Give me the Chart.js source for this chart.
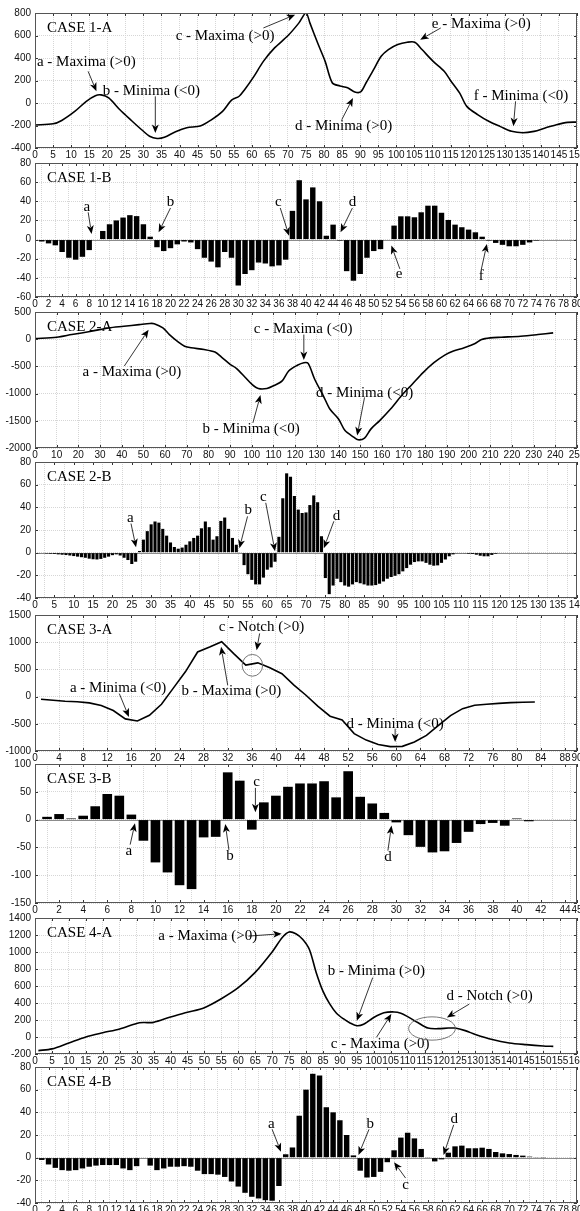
<!DOCTYPE html>
<html>
<head>
<meta charset="utf-8">
<script src="https://cdn.jsdelivr.net/npm/chart.js"></script>
<style>
  body { margin: 0; background: #fff; width: 580px; height: 1211px; position: relative; overflow: hidden; }
  canvas { position: absolute; left: 0; }
</style>
</head>
<body>
<canvas id="c1"></canvas><canvas id="c2"></canvas><canvas id="c3"></canvas><canvas id="c4"></canvas>
<canvas id="c5"></canvas><canvas id="c6"></canvas><canvas id="c7"></canvas><canvas id="c8"></canvas>
<script>
// ---- tick labels ----
const xTicks1 = [0,5,10,15,20,25,30,35,40,45,50,55,60,65,70,75,80,85,90,95,100,105,110,115,120,125,130,135,140,145,150];
const xTicks2 = [0,2,4,6,8,10,12,14,16,18,20,22,24,26,28,30,32,34,36,38,40,42,44,46,48,50,52,54,56,58,60,62,64,66,68,70,72,74,76,78,80];
const xTicks3 = [0,10,20,30,40,50,60,70,80,90,100,110,120,130,140,150,160,170,180,190,200,210,220,230,240,250];
const xTicks4 = [0,5,10,15,20,25,30,35,40,45,50,55,60,65,70,75,80,85,90,95,100,105,110,115,120,125,130,135,140];
const xTicks5 = [0,4,8,12,16,20,24,28,32,36,40,44,48,52,56,60,64,68,72,76,80,84,88,90];
const xTicks6 = [0,2,4,6,8,10,12,14,16,18,20,22,24,26,28,30,32,34,36,38,40,42,44,45];
const xTicks7 = [0,5,10,15,20,25,30,35,40,45,50,55,60,65,70,75,80,85,90,95,100,105,110,115,120,125,130,135,140,145,150,155,160];
const xTicks8 = xTicks2;
const yTicks1 = [-400,-200,0,200,400,600,800];
const yTicks2 = [-60,-40,-20,0,20,40,60,80];
const yTicks3 = [-2000,-1500,-1000,-500,0,500];
const yTicks4 = [-40,-20,0,20,40,60,80];
const yTicks5 = [-1000,-500,0,500,1000,1500];
const yTicks6 = [-150,-100,-50,0,50,100];
const yTicks7 = [-200,0,200,400,600,800,1000,1200,1400];
const yTicks8 = [-40,-20,0,20,40,60,80];

// ---- series ----
const case1aX = [0,5,7.4,11,14.2,16.7,18.3,20.4,23.5,26.5,29.6,31.7,33.8,35.8,38.9,42,45.7,48.8,51.9,54.4,56.5,58,60.6,63.2,66.3,69.9,73,75,76.1,78.2,80.3,82.3,84.4,86.5,88.5,90.1,91.6,93.7,95.8,97.8,100.4,103,105.1,107.1,110.2,113.3,114.9,117.5,119.5,122.6,125.7,128.8,131.9,135,138.1,141.2,144.3,147.4,150];
const case1aY = [-195,-185,-155,-75,15,65,72,45,-60,-150,-240,-295,-315,-305,-255,-220,-205,-150,-75,25,60,118,237,370,490,595,710,800,710,535,370,178,152,135,98,98,178,296,415,475,520,540,540,475,370,280,205,90,-30,-105,-165,-210,-252,-265,-252,-222,-193,-172,-170];

const case1b = [-2,-4,-6,-13,-19,-21,-18,-11,0,9,16,20,23,25.5,24.5,16,3,-8,-12,-9,-5,-2,-3,-10,-19,-23,-29,-13,-19,-48,-36,-32,-24,-25,-28,-27,-21,30,62,42,54.5,40,4,15.6,-1,-33,-43,-36,-19,-12,-10,0,14.6,24.3,24.3,23.3,28.5,35.4,35.4,28,20.5,15.6,12.9,10.4,7.6,3,-1,-3.5,-5.5,-7,-7,-5.5,-3,-1];

const case2aX = [0,10,17,26,34,41,48,53,55,59,62,66,69,72,78,83,86,90,93,97,100,103,107,110,114,117,121,124,126,129,133,136,140,143,147,149,152,155,159,164,169,174,179,184,189,193,198,203,206,210,215,224,232,239];
const case2aY = [10,36,85,146,207,237,268,290,286,207,85,-49,-128,-158,-189,-237,-328,-462,-540,-705,-827,-906,-906,-857,-766,-584,-480,-432,-444,-736,-1040,-1283,-1466,-1680,-1800,-1849,-1818,-1648,-1496,-1283,-1040,-827,-614,-432,-292,-219,-158,-79,-6,24,36,55,85,116];

const case2b = [-0.3,-0.5,-0.8,-1,-1.2,-1.5,-1.8,-2.1,-2.5,-3,-3.5,-4,-4.5,-5.3,-5.8,-6,-5.5,-4.5,-3.5,-2.2,-1.5,-2.5,-4.5,-6.5,-10,-8,
  1.5,11.5,19,25,27.5,26.5,21,15,9,5,3.5,4.5,7,10,13,15,21.5,27.5,22.5,11.5,14.5,28,31,21,13,7,0.5,
  -11,-19,-24,-28,-28,-22,-15,-13,-8,14,48,70,67,50,38,35,35.5,42,50.5,44.5,14.5,
  -22.4,-36.6,-29,-23,-26,-29,-30,-28,-26,-27,-28,-29,-29,-28.6,-27.4,-25.4,-23,-21.5,-20.4,-19,-16.5,-13.6,-10.6,-8.3,-7.7,-7.7,-9,-10.6,-11.5,-11.2,-9,-6,-3.2,-1.5,-0.6,-0.3,-0.6,-1,-1.2,-1.8,-2.7,-3.2,-3.2,-2,-1];

const case3aX = [1,3,5,7,9,11,13,15,17,19,21,23,25,27,29,31,33,35,37,39,41,43,45,47,49,51,53,55,57,59,61,63,65,67,69,71,73,75,77,79,81,83];
const case3aY = [-50,-68,-86,-95,-115,-165,-255,-410,-448,-344,-140,160,460,820,910,1010,790,580,620,530,420,210,25,-180,-360,-430,-680,-800,-880,-920,-915,-835,-712,-528,-350,-221,-160,-140,-125,-110,-105,-98];

const case3b = [5,10,2,7,24,46,43,9,-38,-77,-95,-118,-125,-32,-31,85,70,-18,31,43,59,65,65,69,40,87,41,29,12,-5,-28,-49,-59,-57,-42,-22,-8,-6,-11,2,-3];

const case4aX = [1,5,10,15,20,25,30,32,35,40,45,50,55,60,65,70,73,75,77,79,81,83,85,87,89,91,93,95,97,100,103,106,108,110,113,116,119,122,124,127,130,135,140,145,150,153];
const case4aY = [-160,-140,-70,0,50,95,160,170,172,235,290,345,450,580,760,1000,1170,1235,1215,1150,1030,760,540,390,280,215,165,133,150,230,285,295,280,240,170,105,98,105,105,75,30,-30,-70,-90,-105,-110];

const case4b = [-2,-6,-9,-11,-11.5,-11,-9.5,-8,-7,-6.5,-6.5,-6.5,-9.5,-11,-7.5,-0.5,-7,-11,-9.5,-8,-8,-7.5,-8,-11.5,-14.5,-14.5,-15,-17,-21,-25.5,-31,-34.5,-36,-37.5,-38,-25,3,
  9,37,60,74,72.5,44.5,40,33,20,2,-11.5,-17.5,-17,-12.5,-4,6.5,17.7,22,17,7.7,0.3,-3.3,-1.5,4.4,10,10.6,8.3,8.3,8.8,7.7,5,3.8,3.2,2.4,1.8,0.9,0.6,0.2];

// ---- annotations (text centre, arrow from a to b, in data units) ----
const notes1a = [
  {t:'a - Maxima (>0)', x:14.2, y:361, ax:14.7, ay:281, bx:17, by:104},
  {t:'b - Minima (<0)', x:32.2, y:104, ax:33.3, ay:59, bx:33.3, by:-267},
  {t:'c - Maxima (>0)', x:52.6, y:599, ax:63.2, ay:667, bx:72, by:785},
  {t:'d - Minima (>0)', x:85.4, y:-201, ax:84.9, ay:-148, bx:88, by:44},
  {t:'e - Maxima (>0)', x:123.5, y:705, ax:112.3, ay:667, bx:106.6, by:563},
  {t:'f - Minima (<0)', x:134.5, y:59, ax:133, ay:15, bx:132.4, by:-207}
];
const notes1b = [
  {t:'a', x:7.65, y:34.4, ax:7.85, ay:28.5, bx:8.35, by:5.9},
  {t:'b', x:20, y:39, ax:20, ay:33, bx:18.25, by:7.6},
  {t:'c', x:35.9, y:39, ax:36.2, ay:33, bx:37.5, by:4},
  {t:'d', x:46.85, y:39, ax:46.85, ay:33, bx:45.1, by:7.6},
  {t:'e', x:53.75, y:-36.5, ax:53.85, ay:-30.6, bx:52.6, by:-6.3},
  {t:'f', x:65.85, y:-38.5, ax:65.85, ay:-32, bx:66.7, by:-4.5}
];
const notes2a = [
  {t:'a - Maxima (>0)', x:44.7, y:-602, ax:41.2, ay:-493, bx:52.4, by:176},
  {t:'b - Minima (<0)', x:99.7, y:-1660, ax:100.5, ay:-1539, bx:104, by:-1028},
  {t:'c - Maxima (<0)', x:123.7, y:189, ax:124, ay:85, bx:124, by:-383},
  {t:'d - Minima (<0)', x:152, y:-991, ax:152, ay:-1070, bx:148.6, by:-1770}
];
const notes2b = [
  {t:'a', x:24.6, y:30.7, ax:24.8, ay:25.7, bx:26.1, by:4.7},
  {t:'b', x:55.1, y:37.5, ax:54.9, ay:32, bx:52.8, by:4},
  {t:'c', x:59, y:49, ax:59.6, ay:44, bx:62, by:1.2},
  {t:'d', x:77.9, y:32, ax:77.2, ay:27.7, bx:74.6, by:4}
];
const notes3a = [
  {t:'a - Minima (<0)', x:13.8, y:160, ax:14, ay:55, bx:15.6, by:-375},
  {t:'b - Maxima (>0)', x:32.6, y:98, ax:32, ay:209, bx:30.9, by:915},
  {t:'c - Notch (>0)', x:37.6, y:1284, ax:37.3, ay:1161, bx:36.8, by:854},
  {t:'d - Minima (<0)', x:59.8, y:-497, ax:59.8, ay:-590, bx:59.8, by:-835}
];
const notes3b = [
  {t:'a', x:7.8, y:-56, ax:7.9, ay:-45, bx:8.3, by:-6.6},
  {t:'b', x:16.2, y:-65, ax:16.1, ay:-54.5, bx:15.8, by:-7.8},
  {t:'c', x:18.4, y:67, ax:18.3, ay:57, bx:18.3, by:13},
  {t:'d', x:29.3, y:-66.5, ax:29.3, ay:-55.8, bx:29.6, by:-10.8}
];
const notes4a = [
  {t:'a - Maxima (>0)', x:51, y:1187, ax:63, ay:1187, bx:72.8, by:1215},
  {t:'b - Minima (>0)', x:100.8, y:777, ax:99.7, ay:699, bx:95, by:191},
  {t:'c - Maxima (>0)', x:101.9, y:-82, ax:100.8, ay:-4, bx:105.2, by:270},
  {t:'d - Notch (>0)', x:134.2, y:484, ax:128.2, ay:387, bx:121.6, by:230}
];
const notes4b = [
  {t:'a', x:34.9, y:30, ax:35, ay:25, bx:36.3, by:5.3},
  {t:'b', x:49.5, y:30, ax:49.3, ay:25, bx:47.75, by:2.4},
  {t:'c', x:54.7, y:-24, ax:54.7, ay:-18, bx:53, by:-4},
  {t:'d', x:61.9, y:34, ax:61.8, ay:29, bx:60.3, by:2.4}
];

const panels = [
  {id:'c1', title:'CASE 1-A', top:13,   bottom:148,  xMax:150, xTicks:xTicks1, yMin:-400,  yMax:800,  yTicks:yTicks1, xs:case1aX, ys:case1aY, tension:0.3, notes:notes1a},
  {id:'c2', title:'CASE 1-B', top:163,  bottom:297,  xMax:80,  xTicks:xTicks2, yMin:-60,   yMax:80,   yTicks:yTicks2, bars:case1b, notes:notes1b},
  {id:'c3', title:'CASE 2-A', top:312,  bottom:448,  xMax:250, xTicks:xTicks3, yMin:-2000, yMax:500,  yTicks:yTicks3, xs:case2aX, ys:case2aY, tension:0.3, notes:notes2a},
  {id:'c4', title:'CASE 2-B', top:462,  bottom:598,  xMax:140, xTicks:xTicks4, yMin:-40,   yMax:80,   yTicks:yTicks4, bars:case2b, notes:notes2b},
  {id:'c5', title:'CASE 3-A', top:615,  bottom:751,  xMax:90,  xTicks:xTicks5, yMin:-1000, yMax:1500, yTicks:yTicks5, xs:case3aX, ys:case3aY, tension:0, notes:notes3a,
    ring:{x:36.1, y:575, rx:1.7, ry:200}},
  {id:'c6', title:'CASE 3-B', top:764,  bottom:903,  xMax:45,  xTicks:xTicks6, yMin:-150,  yMax:100,  yTicks:yTicks6, bars:case3b, notes:notes3b},
  {id:'c7', title:'CASE 4-A', top:918,  bottom:1054, xMax:160, xTicks:xTicks7, yMin:-200,  yMax:1400, yTicks:yTicks7, xs:case4aX, ys:case4aY, tension:0.3, notes:notes4a,
    ring:{x:117.2, y:100, rx:6.9, ry:137}},
  {id:'c8', title:'CASE 4-B', top:1067, bottom:1203, xMax:80,  xTicks:xTicks8, yMin:-40,   yMax:80,   yTicks:yTicks8, bars:case4b, notes:notes4b}
];

const PAD_TOP = 10, X_AXIS_H = 14, Y_AXIS_W = 35, PAD_RIGHT = 3;
const tickFont = {family: '"Liberation Sans", Arial, sans-serif', size: 10};
const serif = '"Liberation Serif", "Times New Roman", serif';

function arrow(ctx, x1, y1, x2, y2) {
  const ang = Math.atan2(y2 - y1, x2 - x1), c = Math.cos(ang), s = Math.sin(ang);
  const L = 8.5, W = 3.5;
  ctx.beginPath();
  ctx.moveTo(x1, y1);
  ctx.lineTo(x2 - L * 0.8 * c, y2 - L * 0.8 * s);
  ctx.stroke();
  ctx.beginPath();
  ctx.moveTo(x2, y2);
  ctx.lineTo(x2 - L * c + W * s, y2 - L * s - W * c);
  ctx.lineTo(x2 - L * 0.75 * c, y2 - L * 0.75 * s);
  ctx.lineTo(x2 - L * c - W * s, y2 - L * s + W * c);
  ctx.closePath();
  ctx.fill();
}

function decor(p) {
  return {
    id: 'decor_' + p.id,
    beforeDatasetsDraw(chart) {
      if (!p.bars) return;
      const {ctx, chartArea: a, scales: {y}} = chart;
      const y0 = Math.round(y.getPixelForValue(0)) + 0.5;
      ctx.save();
      ctx.strokeStyle = '#8c8c8c';
      ctx.lineWidth = 1;
      ctx.beginPath();
      ctx.moveTo(a.left, y0);
      ctx.lineTo(a.right, y0);
      ctx.stroke();
      ctx.restore();
    },
    afterDraw(chart) {
      const {ctx, chartArea: a, scales: {x, y}} = chart;
      ctx.save();
      // inner tick marks
      ctx.strokeStyle = '#333';
      ctx.lineWidth = 1;
      ctx.beginPath();
      x.ticks.forEach(t => {
        const px = Math.round(x.getPixelForValue(t.value)) + 0.5;
        ctx.moveTo(px, a.bottom); ctx.lineTo(px, a.bottom - 3);
        ctx.moveTo(px, a.top); ctx.lineTo(px, a.top + 3);
      });
      y.ticks.forEach(t => {
        const py = Math.round(y.getPixelForValue(t.value)) + 0.5;
        ctx.moveTo(a.left, py); ctx.lineTo(a.left + 3, py);
        ctx.moveTo(a.right, py); ctx.lineTo(a.right - 3, py);
      });
      ctx.stroke();
      // box
      ctx.strokeStyle = '#555';
      ctx.strokeRect(Math.round(a.left) + 0.5, Math.round(a.top) + 0.5,
                     Math.round(a.width) - 1, Math.round(a.height) - 1);
      // title
      ctx.fillStyle = '#000';
      ctx.font = '15px ' + serif;
      ctx.textAlign = 'left';
      ctx.textBaseline = 'middle';
      ctx.fillText(p.title, a.left + 12, a.top + 15);
      // notes
      ctx.textAlign = 'center';
      ctx.strokeStyle = '#000';
      ctx.lineWidth = 0.8;
      p.notes.forEach(n => {
        ctx.fillText(n.t, x.getPixelForValue(n.x), y.getPixelForValue(n.y));
        arrow(ctx, x.getPixelForValue(n.ax), y.getPixelForValue(n.ay),
                   x.getPixelForValue(n.bx), y.getPixelForValue(n.by));
      });
      if (p.ring) {
        const cx = x.getPixelForValue(p.ring.x), cy = y.getPixelForValue(p.ring.y);
        const rx = Math.abs(x.getPixelForValue(p.ring.x + p.ring.rx) - cx);
        const ry = Math.abs(y.getPixelForValue(p.ring.y + p.ring.ry) - cy);
        ctx.strokeStyle = '#666';
        ctx.lineWidth = 0.9;
        ctx.beginPath();
        ctx.ellipse(cx, cy, rx, ry, 0, 0, Math.PI * 2);
        ctx.stroke();
      }
      ctx.restore();
    }
  };
}

panels.forEach(p => {
  const cv = document.getElementById(p.id);
  const h = PAD_TOP + (p.bottom - p.top) + X_AXIS_H;
  cv.width = 580;
  cv.height = h;
  cv.style.top = (p.top - PAD_TOP) + 'px';

  let type, dataset;
  if (p.bars) {
    type = 'bar';
    dataset = {
      data: p.bars.map((v, i) => ({x: i + 1, y: v})),
      backgroundColor: '#000',
      borderWidth: 0,
      barPercentage: 0.8,
      categoryPercentage: 1
    };
  } else {
    type = 'line';
    dataset = {
      data: p.xs.map((v, i) => ({x: v, y: p.ys[i]})),
      borderColor: '#000',
      borderWidth: 1.6,
      pointRadius: 0,
      tension: p.tension,
      fill: false
    };
  }

  new Chart(cv, {
    type: type,
    data: {datasets: [dataset]},
    options: {
      responsive: false,
      animation: false,
      events: [],
      layout: {padding: {top: PAD_TOP, right: PAD_RIGHT, left: 0, bottom: 0}},
      plugins: {legend: {display: false}, tooltip: {enabled: false}},
      scales: {
        x: {
          type: 'linear', min: 0, max: p.xMax, offset: false,
          afterBuildTicks: s => { s.ticks = p.xTicks.map(v => ({value: v})); },
          afterFit: s => { s.height = X_AXIS_H; s.paddingLeft = 0; s.paddingRight = 0; },
          ticks: {autoSkip: false, maxRotation: 0, minRotation: 0, padding: 1, color: '#111', font: tickFont,
                  callback: v => String(v)},
          grid: {color: '#d6d6d6', lineWidth: 1, drawTicks: false},
          border: {display: false, dash: [1, 1]}
        },
        y: {
          type: 'linear', min: p.yMin, max: p.yMax,
          afterBuildTicks: s => { s.ticks = p.yTicks.map(v => ({value: v})); },
          afterFit: s => { s.width = Y_AXIS_W; s.paddingTop = 0; s.paddingBottom = 0; },
          ticks: {padding: 4, color: '#111', font: tickFont, callback: v => String(v)},
          grid: {color: '#d6d6d6', lineWidth: 1, drawTicks: false},
          border: {display: false, dash: [1, 1]}
        }
      }
    },
    plugins: [decor(p)]
  });
});
</script>
</body>
</html>
